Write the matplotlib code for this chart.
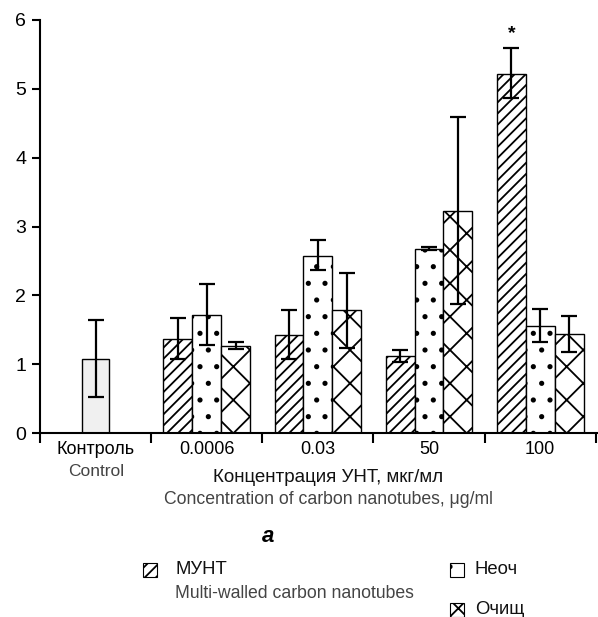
import numpy as np
import matplotlib.pyplot as plt
from matplotlib.patches import Rectangle

plt.rcParams['font.family'] = ['Liberation Sans', 'DejaVu Sans']
plt.rcParams['hatch.linewidth'] = 1.3

# data
groups = ['Контроль', '0.0006', '0.03', '50', '100']
control_val = 1.08
control_err = (0.56, 0.56)   # (down, up)

mwcnt = [1.37, 1.43, 1.12, 5.22]
mwcnt_lo = [1.08, 1.08, 1.03, 4.86]
mwcnt_hi = [1.67, 1.79, 1.20, 5.59]

raw = [1.72, 2.57, 2.68, 1.55]
raw_lo = [1.28, 2.37, 2.66, 1.32]
raw_hi = [2.16, 2.80, 2.70, 1.80]

pure = [1.27, 1.79, 3.23, 1.44]
pure_lo = [1.22, 1.23, 1.87, 1.17]
pure_hi = [1.32, 2.33, 4.59, 1.70]

series = [
    (mwcnt, mwcnt_lo, mwcnt_hi, '///'),
    (raw, raw_lo, raw_hi, '.'),
    (pure, pure_lo, pure_hi, 'x'),
]

W, H = 598, 617
fig = plt.figure(figsize=(W / 100, H / 100), dpi=100)
ax = fig.add_axes([40 / W, (H - 433) / H, 1 - 40 / W, (433 - 20) / H])

bw = 0.26
ekw = dict(ecolor='black', elinewidth=1.6, capsize=6, capthick=1.6)

ax.bar(0, control_val, width=0.25, color='#f0f0f0', edgecolor='black', linewidth=1.0)
ax.errorbar(0, control_val, yerr=[[control_err[0]], [control_err[1]]], fmt='none', **ekw)

x = np.arange(1, 5)
for i, (vals, lo, hi, hatch) in enumerate(series):
    pos = x + (i - 1) * bw
    vals = np.array(vals)
    ax.bar(pos, vals, width=bw, color='white', edgecolor='black', linewidth=1.0, hatch=hatch)
    yerr = [vals - np.array(lo), np.array(hi) - vals]
    ax.errorbar(pos, vals, yerr=yerr, fmt='none', **ekw)

ax.text(4 - bw, 5.68, '*', ha='center', va='bottom', fontsize=14, fontweight='bold')

ax.set_xlim(-0.5, 4.52)
ax.set_ylim(0, 6)
for s in ['top', 'right']:
    ax.spines[s].set_visible(False)
for s in ['left', 'bottom']:
    ax.spines[s].set_linewidth(1.5)

ax.set_yticks(range(7))
ax.tick_params(axis='y', length=6, width=1.5, pad=4, labelsize=14)
ax.set_xticks(range(5))
ax.set_xticklabels(groups, fontsize=13)
ax.tick_params(axis='x', which='major', length=0, pad=6)
ax.set_xticks(np.arange(-0.5, 5, 1), minor=True)
ax.tick_params(axis='x', which='minor', length=7, width=1.5, direction='out')

fig.text(96 / W, 1 - 472 / H, 'Control', ha='center', va='center', fontsize=12.5, color='#444444')
fig.text(328 / W, 1 - 477 / H, 'Концентрация УНТ, мкг/мл', ha='center', va='center', fontsize=13.5, color='#111111')
fig.text(328 / W, 1 - 500 / H, 'Concentration of carbon nanotubes, μg/ml', ha='center', va='center',
         fontsize=12.7, color='#444444')
fig.text(268 / W, 1 - 537 / H, 'a', ha='center', va='center', fontsize=16, fontweight='bold', style='italic')

# legend drawn by hand; the right column is cut by the picture edge in the source
legend = [
    (143, 563, '///', 'МУНТ', 'Multi-walled carbon nanotubes', 175),
    (450, 563, '.', 'Неоч', None, 475),
    (450, 603, 'xx', 'Очищ', None, 475),
]
for lx, ly, hatch, ru, en, tx in legend:
    fig.patches.append(Rectangle((lx / W, 1 - (ly + 14) / H), 14 / W, 14 / H, transform=fig.transFigure,
                                 facecolor='white', edgecolor='black', linewidth=0.8, hatch=hatch))
    fig.text(tx / W, 1 - (ly + 7) / H, ru, ha='left', va='center', fontsize=13.3, color='#111111')
    if en:
        fig.text(tx / W, 1 - (ly + 31) / H, en, ha='left', va='center', fontsize=12.7, color='#444444')

fig.savefig('out.png', dpi=100)
